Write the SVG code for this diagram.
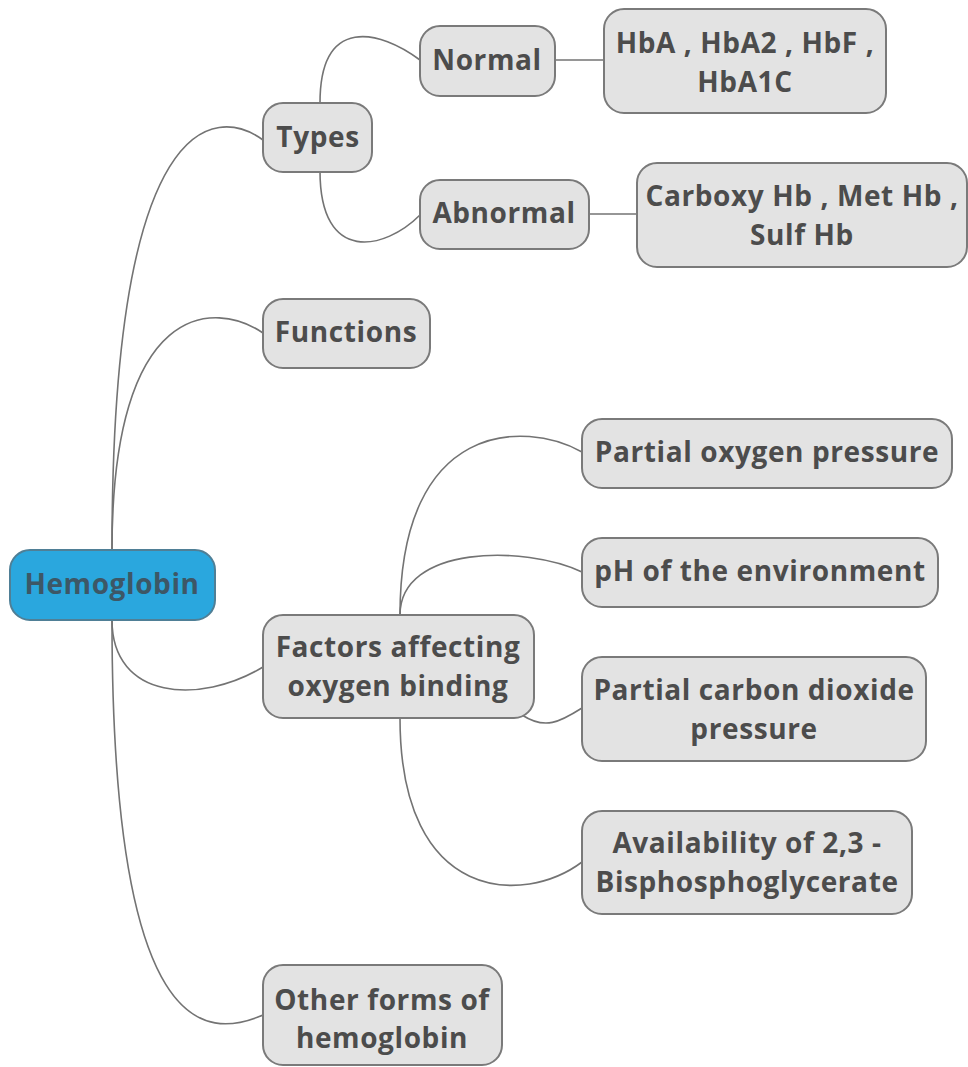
<svg xmlns="http://www.w3.org/2000/svg" width="968" height="1067" viewBox="0 0 968 1067">
<style>
.n rect{fill:#e3e3e3;stroke:#7a7a7a;stroke-width:2}
.n text{font-family:"Open Sans","Noto Sans","DejaVu Sans",sans-serif;font-weight:bold;font-size:28px;letter-spacing:0.6px;fill:#4c4c4c;text-anchor:middle}
#hemoglobin rect{fill:#2aa7de;stroke:#4f7f96}
#hemoglobin text{fill:#3d5766}
.c path{fill:none;stroke:#737373;stroke-width:1.6}
</style>
<rect width="968" height="1067" fill="#ffffff"/>
<g class="c" id="connectors">
<path d="M112,550 C112,110 215,105 263,140"/>
<path d="M112,550 C112,300 215,300 263,333"/>
<path d="M112,620 C112,700 200,705 263,667"/>
<path d="M112,620 C112,1040 205,1040 263,1015"/>
<path d="M320,103 C320,15 380,30 420,60"/>
<path d="M320,171 C320,265 385,250 420,215"/>
<path d="M555,60 L604,60"/>
<path d="M589,214 L637,214"/>
<path d="M400,615 C400,420 525,420 582,452"/>
<path d="M400,615 C400,545 525,545 582,572"/>
<path d="M522,715 C545,730 560,722 582,708"/>
<path d="M400,718 C400,905 525,905 582,862"/>
</g>
<g class="n" id="hemoglobin"><rect x="10" y="550" width="205" height="70" rx="20"/><text x="112" y="594">Hemoglobin</text></g>
<g class="n" id="types"><rect x="263" y="103" width="109" height="69" rx="20"/><text x="318" y="147">Types</text></g>
<g class="n" id="normal"><rect x="420" y="26" width="135" height="70" rx="20"/><text x="487" y="70">Normal</text></g>
<g class="n" id="hb-normal"><rect x="604" y="9" width="282" height="104" rx="20"/><text x="745" y="53">HbA , HbA2 , HbF ,</text><text x="745" y="92">HbA1C</text></g>
<g class="n" id="abnormal"><rect x="420" y="180" width="169" height="69" rx="20"/><text x="504" y="223">Abnormal</text></g>
<g class="n" id="hb-abnormal"><rect x="637" y="163" width="330" height="104" rx="20"/><text x="802" y="206">Carboxy Hb , Met Hb ,</text><text x="802" y="245">Sulf Hb</text></g>
<g class="n" id="functions"><rect x="263" y="299" width="167" height="69" rx="20"/><text x="346" y="342">Functions</text></g>
<g class="n" id="factors"><rect x="263" y="615" width="271" height="103" rx="20"/><text x="398" y="657">Factors affecting</text><text x="398" y="696">oxygen binding</text></g>
<g class="n" id="po2"><rect x="582" y="419" width="370" height="69" rx="20"/><text x="767" y="462">Partial oxygen pressure</text></g>
<g class="n" id="ph"><rect x="582" y="538" width="356" height="69" rx="20"/><text x="760" y="581">pH of the environment</text></g>
<g class="n" id="pco2"><rect x="582" y="657" width="344" height="104" rx="20"/><text x="754" y="700">Partial carbon dioxide</text><text x="754" y="739">pressure</text></g>
<g class="n" id="bpg"><rect x="582" y="811" width="330" height="103" rx="20"/><text x="747" y="853">Availability of 2,3 -</text><text x="747" y="892">Bisphosphoglycerate</text></g>
<g class="n" id="other"><rect x="263" y="965" width="239" height="100" rx="20"/><text x="382" y="1010">Other forms of</text><text x="382" y="1048">hemoglobin</text></g>
</svg>
